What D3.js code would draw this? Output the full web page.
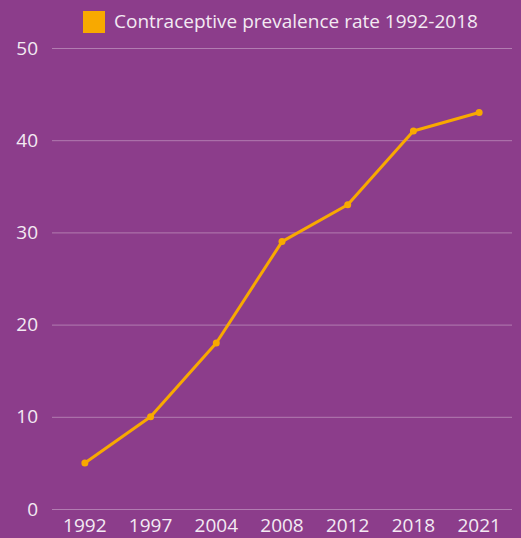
<!DOCTYPE html>
<html><head><meta charset="utf-8">
<script src="https://cdn.jsdelivr.net/npm/d3@7"></script>
<style>
html,body{margin:0;padding:0;background:#8c3d8b;}
svg{display:block;}
text{font-family:"Open Sans",sans-serif;fill:#f3eaf3;}
</style></head><body>
<svg id="c" width="521" height="538"></svg>
<script>
const categories = ["1992","1997","2004","2008","2012","2018","2021"];
const values = [5,10,18,29,33,41,43];
const yTicks = [0,10,20,30,40,50];
const seriesName = "Contraceptive prevalence rate 1992-2018";

const W=521,H=538;
const m={left:52,right:9,top:48,bottom:29};
const svg=d3.select("#c");
svg.append("rect").attr("width",W).attr("height",H).attr("fill","#8c3d8b");

const x=d3.scaleBand().domain(categories).range([m.left,W-m.right]);
const y=d3.scaleLinear().domain([0,50]).range([H-m.bottom,m.top]);

const gy=svg.append("g").attr("transform",`translate(${m.left},0)`)
 .call(d3.axisLeft(y).tickValues(yTicks).tickSize(-(W-m.left-m.right)).tickPadding(14));
gy.select(".domain").remove();
gy.selectAll(".tick line").attr("stroke","#b27cb1").attr("stroke-width",1);
gy.selectAll(".tick text").attr("font-size",19).attr("font-family","Open Sans, sans-serif").attr("fill","#f3eaf3");

const gx=svg.append("g").attr("transform",`translate(0,${H-m.bottom})`)
 .call(d3.axisBottom(x).tickSize(0).tickPadding(10));
gx.select(".domain").remove();
gx.selectAll(".tick text").attr("font-size",19).attr("font-family","Open Sans, sans-serif").attr("fill","#f3eaf3");

const line=d3.line().x((d,i)=>x(categories[i])+x.bandwidth()/2).y(d=>y(d));
svg.append("path").datum(values).attr("d",line).attr("fill","none")
 .attr("stroke","#f8a900").attr("stroke-width",3).attr("stroke-linejoin","round");
svg.selectAll("circle.p").data(values).join("circle").attr("class","p")
 .attr("cx",(d,i)=>x(categories[i])+x.bandwidth()/2).attr("cy",d=>y(d)).attr("r",3.5)
 .attr("fill","#f8a900");

const lg=svg.append("g");
lg.append("rect").attr("x",83).attr("y",11).attr("width",22).attr("height",22).attr("fill","#f8a900");
lg.append("text").attr("x",114).attr("y",28).attr("font-size",19).text(seriesName);
</script>
</body></html>
